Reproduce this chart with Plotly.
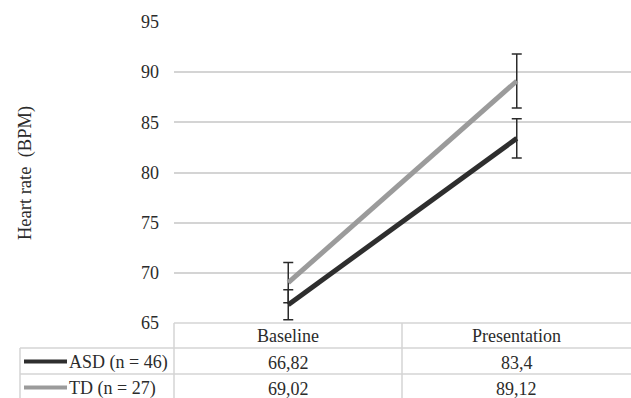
import plotly.graph_objects as go

# ---- data ----
categories = ["Baseline", "Presentation"]
series_names = ["ASD (n = 46)", "TD (n = 27)"]
asd_values = [66.82, 83.4]
td_values = [69.02, 89.12]
asd_errors = [1.5, 1.95]
td_errors = [2.0, 2.7]
y_ticks = [65, 70, 75, 80, 85, 90, 95]

colors = ["#2e2e2e", "#9b9b9b"]
values = [asd_values, td_values]
errors = [asd_errors, td_errors]

W, H = 631, 398
L, R, T, B = 174, 0, 22, 75
PW, PH = W - L - R, H - T - B


def px_x(px):
    return (px - L) / PW


def px_y(py):
    return (H - B - py) / PH


FONT = "Liberation Serif, Times New Roman, serif"
TXT = "#2b2b2b"
GRID = "#d4d4d4"
FS = 18

fig = go.Figure()
for name, vals, errs, col in zip(series_names, values, errors, colors):
    fig.add_trace(go.Scatter(
        x=categories, y=vals, mode="lines", name=name,
        line=dict(color=col, width=5),
        error_y=dict(type="data", array=errs, visible=True,
                     color="#2b2b2b", thickness=1.5, width=5),
        showlegend=False, hoverinfo="skip",
    ))

shapes = []
# table grid
row_y = [323, 348, 374]
shapes.append(dict(type="line", xref="paper", yref="paper",
                   x0=px_x(174), x1=px_x(631), y0=px_y(323), y1=px_y(323),
                   line=dict(color=GRID, width=1.5)))
for yy in row_y[1:]:
    shapes.append(dict(type="line", xref="paper", yref="paper",
                       x0=px_x(20), x1=px_x(631), y0=px_y(yy), y1=px_y(yy),
                       line=dict(color=GRID, width=1.5)))
shapes.append(dict(type="line", xref="paper", yref="paper",
                   x0=px_x(20), x1=px_x(20), y0=px_y(348), y1=px_y(400),
                   line=dict(color=GRID, width=1.5)))
for xx in [174, 402]:
    shapes.append(dict(type="line", xref="paper", yref="paper",
                       x0=px_x(xx), x1=px_x(xx), y0=px_y(323), y1=px_y(400),
                       line=dict(color=GRID, width=1.5)))

annotations = []
row_centers = [361.5, 387.5]
# header
for c in categories:
    annotations.append(dict(text=c, xref="x", yref="paper", x=c, y=px_y(336),
                            showarrow=False, font=dict(family=FONT, size=FS, color=TXT),
                            xanchor="center", yanchor="middle"))
for i, (name, vals, col) in enumerate(zip(series_names, values, colors)):
    yc = row_centers[i]
    shapes.append(dict(type="line", xref="paper", yref="paper",
                       x0=px_x(24), x1=px_x(67), y0=px_y(yc), y1=px_y(yc),
                       line=dict(color=col, width=4)))
    annotations.append(dict(text=name, xref="paper", yref="paper", x=px_x(67), y=px_y(yc + 1),
                            showarrow=False, font=dict(family=FONT, size=FS, color=TXT),
                            xanchor="left", yanchor="middle"))
    for c, v in zip(categories, vals):
        annotations.append(dict(text=str(v).replace(".", ","), xref="x", yref="paper", x=c,
                                y=px_y(yc + 1), showarrow=False,
                                font=dict(family=FONT, size=FS, color=TXT),
                                xanchor="center", yanchor="middle"))

annotations.append(dict(text="Heart rate  (BPM)", xref="paper", yref="paper",
                        x=px_x(25), y=px_y(173), textangle=-90, showarrow=False,
                        font=dict(family=FONT, size=18.5, color=TXT),
                        xanchor="center", yanchor="middle"))

fig.update_layout(
    width=W, height=H, autosize=False,
    margin=dict(l=L, r=R, t=T, b=B, pad=0),
    paper_bgcolor="white", plot_bgcolor="white",
    shapes=shapes, annotations=annotations, hovermode=False,
    xaxis=dict(type="category", range=[-0.5, 1.5], showticklabels=False,
               showgrid=False, zeroline=False, showline=False, ticks=""),
    yaxis=dict(range=[65, 95], tickvals=y_ticks, showgrid=True, gridcolor=GRID,
               gridwidth=1.5, zeroline=False, showline=False, ticks="",
               ticklabelstandoff=14,
               tickfont=dict(family=FONT, size=FS, color=TXT)),
)

fig.write_html("out.html", config={"displayModeBar": False},
               post_script="document.body.style.margin='0';document.body.style.overflow='hidden';")
